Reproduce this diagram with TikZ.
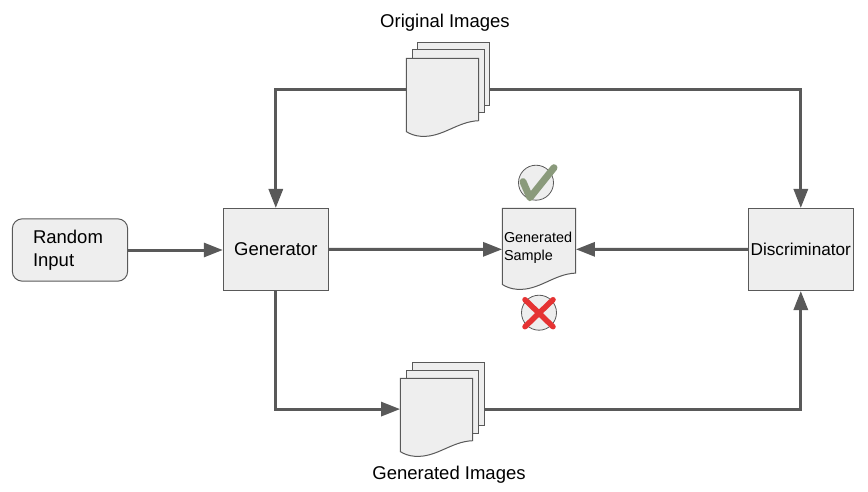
\documentclass[tikz,border=0pt]{standalone}
\usepackage{fontspec}
\setmainfont{Liberation Sans}
\usetikzlibrary{arrows.meta}
\usetikzlibrary{positioning}

\definecolor{boxfill}{HTML}{EEEEEE}
\definecolor{boxline}{HTML}{595959}
\definecolor{okgreen}{HTML}{8A9A7B}
\definecolor{badred}{HTML}{E53333}

\tikzset{
  block/.style={draw=boxline, line width=1pt, fill=boxfill, inner sep=0pt, font=\fontsize{18.5}{23}\selectfont},
  caption/.style={inner sep=0pt, font=\fontsize{18.5}{23}\selectfont},
  conn/.style={draw=boxline, line width=3pt, -{Triangle[length=19pt, width=14pt]}},
  mark circle/.style={circle, draw=boxline, line width=0.8pt, fill=boxfill, minimum size=35pt, inner sep=0pt}
}

% name, left, top, width, node height, height of the wave
\newcommand{\docpage}[6]{
  \begin{scope}[shift={(#2,#3)}, x=#4pt, y=-#6pt]
    \draw[boxline, line width=1pt, fill=boxfill] (0,0) -- (1,0) -- (1,0.8)
      .. controls (0.7,0.81) and (0.5,1.02) .. (0.2,1)
      .. controls (0.12,0.995) and (0.05,0.97) .. (0,0.94) -- cycle;
  \end{scope}
  \node[minimum width=#4pt, minimum height=#5pt, inner sep=0pt] (#1) at ({#2+#4/2},{#3+#5/2}) {};
}

\begin{document}
\begin{tikzpicture}[x=1pt, y=-1pt]

  \useasboundingbox (0,0) rectangle (868,492);

  \node[block, rounded corners=10pt, minimum width=115.4pt, minimum height=62.4pt, text width=74pt, align=left] (input) at (70,250) {Random\\Input};
  \node[block, minimum width=105pt, minimum height=82pt] (generator) at (275.8,249.5) {Generator};
  \node[block, minimum width=105pt, minimum height=82pt, font=\fontsize{17.2}{23}\selectfont] (discriminator) at (800.8,249.5) {Discriminator};

  % original images
  \foreach \px/\py in {417.3/42.3, 412.3/50}{
    \draw[boxline, line width=1pt, fill=boxfill] (\px,\py) rectangle (\px+72,\py+63);
  }
  \node[minimum width=72pt, minimum height=63pt, inner sep=0pt] (origback) at (453.3,73.8) {};
  \docpage{origfront}{406.3}{58.3}{72.4}{62.4}{78}
  \node[caption] (origlabel) at (445,23) {Original Images};

  % generated images
  \foreach \px/\py in {412.3/362.3, 406.3/370}{
    \draw[boxline, line width=1pt, fill=boxfill] (\px,\py) rectangle (\px+72.4,\py+63);
  }
  \node[minimum width=72.4pt, minimum height=63pt, inner sep=0pt] (genback) at (448.5,393.8) {};
  \docpage{genfront}{400.3}{378.3}{72.4}{61.6}{78}
  \node[caption] (genlabel) at (449,474.5) {Generated Images};

  % sample with the two marks
  \node[mark circle] (okmark) at (536,182.7) {};
  \node[mark circle] (badmark) at (539,312.7) {};
  \docpage{sample}{502.3}{208.3}{73.4}{82}{81}
  \node[inner sep=0pt, text width=70pt, align=left, font=\fontsize{14.4}{18}\selectfont] (samplelabel) at (539,247.5) {Generated\\Sample};

  \draw[okgreen, line width=7pt, line cap=round, line join=round] ([shift={(-13,-1)}]okmark.center) -- ([shift={(-6,15)}]okmark.center) -- ([shift={(18,-15)}]okmark.center);
  \draw[badred, line width=5.5pt, line cap=round] ([shift={(-14,-13)}]badmark.center) -- ([shift={(14,14)}]badmark.center);
  \draw[badred, line width=5.5pt, line cap=round] ([shift={(14,-13)}]badmark.center) -- ([shift={(-14,14)}]badmark.center);

  \draw[conn] (input) -- (generator.west |- input);
  \draw[conn] (generator) -- (sample);
  \draw[conn] (discriminator) -- (sample);
  \draw[conn] (origfront.west) -| (generator.north);
  \draw[conn] (origback.east |- origfront.west) -| (discriminator.north);
  \draw[conn] (generator.south) |- (genfront.west);
  \draw[conn] (genback.east |- genfront.west) -| (discriminator.south);

\end{tikzpicture}
\end{document}
